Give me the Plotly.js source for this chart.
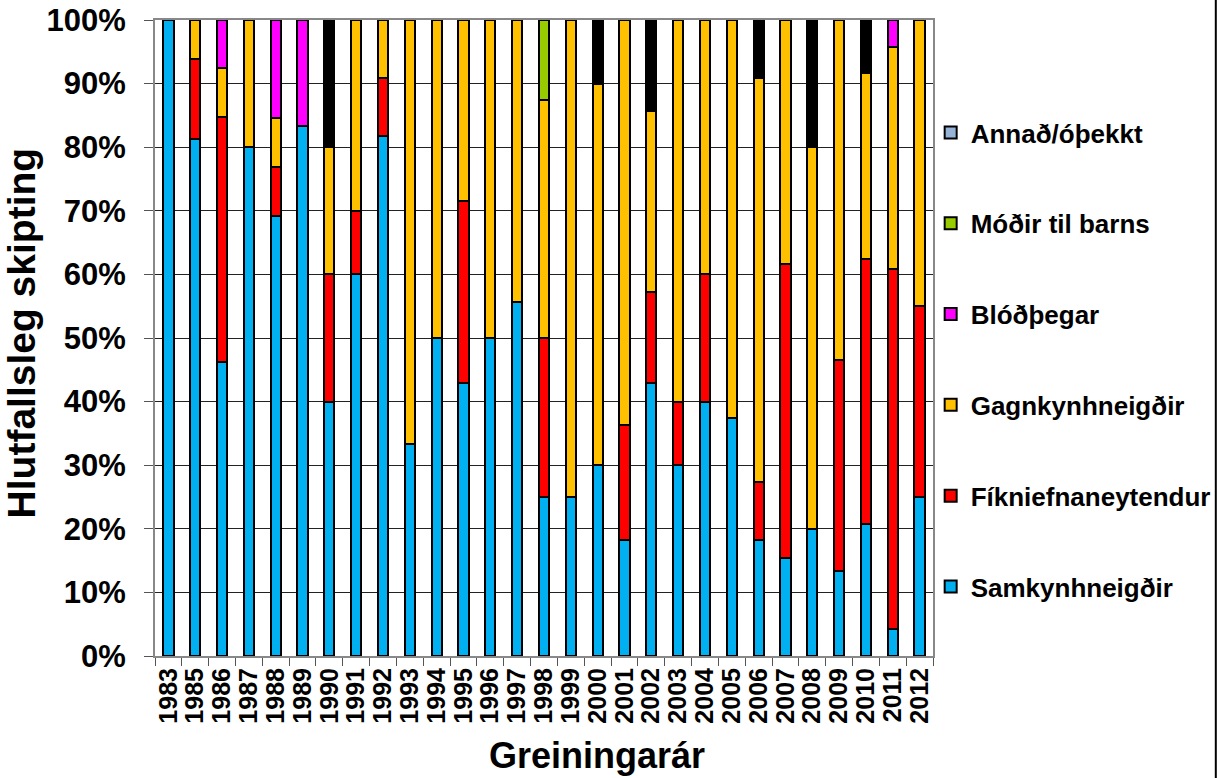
<!DOCTYPE html>
<html>
<head>
<meta charset="utf-8">
<script src="https://cdn.plot.ly/plotly-3.0.1.min.js"></script>
<style>
html,body{margin:0;padding:0;background:#fff;}
#chart{width:1228px;height:778px;}
</style>
</head>
<body>
<div id="chart"></div>
<script>
// Categories (diagnosis years)
const years = ['1983','1985','1986','1987','1988','1989','1990','1991','1992','1993','1994','1995','1996','1997','1998','1999','2000','2001','2002','2003','2004','2005','2006','2007','2008','2009','2010','2011','2012'];

// Percent shares per year
const samkynhneigdir     = [100, 81.3, 46.2, 80, 69.2, 83.3, 40, 60, 81.8, 33.3, 50, 42.9, 50, 55.6, 25, 25, 30, 18.2, 42.9, 30, 40, 37.5, 18.2, 15.4, 20, 13.3, 20.8, 4.3, 25];
const fikniefnaneytendur = [0, 12.5, 38.5, 0, 7.7, 0, 20, 10, 9.1, 0, 0, 28.6, 0, 0, 25, 0, 0, 18.2, 14.3, 10, 20, 0, 9.1, 46.2, 0, 33.3, 41.7, 56.5, 30];
const gagnkynhneigdir    = [0, 6.2, 7.7, 20, 7.7, 0, 20, 30, 9.1, 66.7, 50, 28.5, 50, 44.4, 37.5, 75, 60, 63.6, 28.5, 60, 40, 62.5, 63.6, 38.4, 60, 53.4, 29.2, 34.9, 45];
const blodthegar         = [0, 0, 7.6, 0, 15.4, 16.7, 0, 0, 0, 0, 0, 0, 0, 0, 0, 0, 0, 0, 0, 0, 0, 0, 0, 0, 0, 0, 0, 4.3, 0];
const modirTilBarns      = [0, 0, 0, 0, 0, 0, 0, 0, 0, 0, 0, 0, 0, 0, 12.5, 0, 0, 0, 0, 0, 0, 0, 0, 0, 0, 0, 0, 0, 0];
const svartOthekkt       = [0, 0, 0, 0, 0, 0, 20, 0, 0, 0, 0, 0, 0, 0, 0, 0, 10, 0, 14.3, 0, 0, 0, 9.1, 0, 20, 0, 8.3, 0, 0];
const annadOthekkt       = [0, 0, 0, 0, 0, 0, 0, 0, 0, 0, 0, 0, 0, 0, 0, 0, 0, 0, 0, 0, 0, 0, 0, 0, 0, 0, 0, 0, 0];

const yTicks = [0,10,20,30,40,50,60,70,80,90,100];
const yTickLabels = ['0%','10%','20%','30%','40%','50%','60%','70%','80%','90%','100%'];

const FONT = 'Liberation Sans, Arial, sans-serif';

function bar(name, vals, color, show, rank) {
  return {
    type: 'bar', name: name, x: years, y: vals,
    marker: {color: color, line: {color: '#000', width: 2}},
    legendgroup: name, showlegend: show, legendrank: rank, width: 0.38
  };
}

const data = [
  bar('Samkynhneigðir', samkynhneigdir, '#00B0F0', true, 6),
  bar('Fíkniefnaneytendur', fikniefnaneytendur, '#FF0000', true, 5),
  bar('Gagnkynhneigðir', gagnkynhneigdir, '#FFC000', true, 4),
  bar('Blóðþegar', blodthegar, '#FF00FF', true, 3),
  bar('Móðir til barns', modirTilBarns, '#99CC00', true, 2),
  bar('Óþekkt', svartOthekkt, '#000000', false, 7),
  bar('Annað/óþekkt', annadOthekkt, '#95B3D7', true, 1)
];

const layout = {
  width: 1228, height: 778,
  margin: {l: 155, r: 292, t: 20, b: 122},
  paper_bgcolor: '#fff', plot_bgcolor: '#fff',
  barmode: 'stack',
  font: {family: FONT, color: '#000', weight: 700},
  xaxis: {
    type: 'category',
    tickmode: 'array', tickvals: years, ticktext: years,
    tickangle: -90,
    tickfont: {family: FONT, size: 25, weight: 700, color: '#000'},
    ticks: 'outside', ticklen: 8, tickcolor: '#555', tickwidth: 1,
    tickson: 'boundaries',
    showgrid: false,
    showline: true, linecolor: '#888', linewidth: 2, mirror: true,
    range: [-0.5, 28.5]
  },
  yaxis: {
    range: [0, 100],
    tickvals: yTicks, ticktext: yTickLabels,
    tickfont: {family: FONT, size: 31, weight: 700, color: '#000'},
    ticks: 'outside', ticklen: 9, tickcolor: '#555', tickwidth: 1,
    ticklabelstandoff: 12,
    showgrid: true, gridcolor: '#222', gridwidth: 1,
    showline: true, linecolor: '#888', linewidth: 2, mirror: true,
    zeroline: false
  },
  showlegend: true,
  legend: {
    x: 0.997, xanchor: 'left', y: 0.86, yanchor: 'top',
    traceorder: 'grouped', tracegroupgap: 54,
    font: {family: FONT, size: 26, weight: 700, color: '#000'},
    bgcolor: 'rgba(0,0,0,0)', itemwidth: 30
  },
  annotations: [
    {text: 'Greiningarár', xref: 'paper', yref: 'paper', x: 0.5685, y: -0.1557, xanchor: 'center', yanchor: 'middle', showarrow: false,
     font: {family: FONT, size: 36, weight: 700, color: '#000'}},
    {text: 'Hlutfallsleg skipting', xref: 'paper', yref: 'paper', x: -0.1716, y: 0.508, xanchor: 'center', yanchor: 'middle', textangle: -90, showarrow: false,
     font: {family: FONT, size: 39, weight: 700, color: '#000'}}
  ],
  shapes: [
    {type: 'line', xref: 'paper', yref: 'paper', x0: 1.3635, x1: 1.3635, y0: -0.2, y1: 1.04, line: {color: '#000', width: 2}}
  ]
};

Plotly.newPlot('chart', data, layout, {displayModeBar: false, staticPlot: true});
</script>
</body>
</html>
